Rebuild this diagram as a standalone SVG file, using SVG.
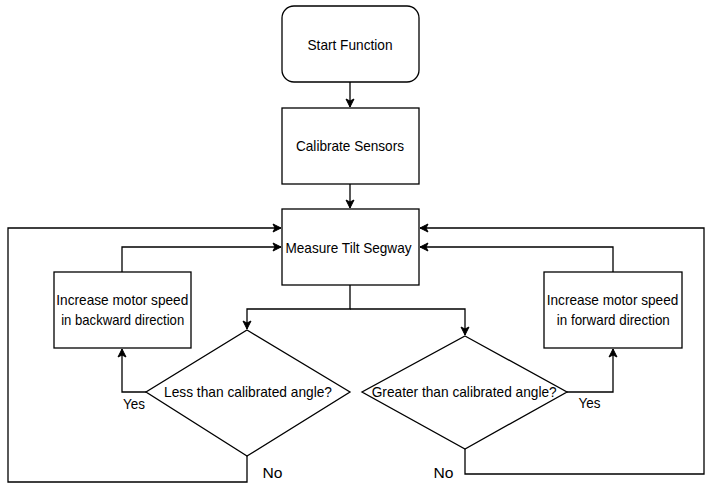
<svg xmlns="http://www.w3.org/2000/svg" width="708" height="489" viewBox="0 0 708 489">
<defs>
<marker id="arr" markerWidth="10" markerHeight="10" refX="9" refY="5" orient="auto" markerUnits="userSpaceOnUse">
<path d="M1,1 L9,5 L1,9 L3,5 Z" fill="#000" stroke="#000" stroke-width="1"/>
</marker>
<style>
.n{fill:#fff;stroke:#000;stroke-width:1.3}
.c{fill:none;stroke:#000;stroke-width:1.3}
text{font-family:"Liberation Sans",Arial,sans-serif;font-size:15px;fill:#000}
.m{text-anchor:middle}
</style>
</defs>
<rect width="708" height="489" fill="#fff"/>
<g id="connectors">
<path class="c" d="M350,82 V107" marker-end="url(#arr)"/>
<path class="c" d="M350,184 V208" marker-end="url(#arr)"/>
<path class="c" d="M350,285 V309 H247 V329" marker-end="url(#arr)"/>
<path class="c" d="M350,309 H465 V335" marker-end="url(#arr)"/>
<path class="c" d="M146,392 H122 V349" marker-end="url(#arr)"/>
<path class="c" d="M122,272 V247 H281" marker-end="url(#arr)"/>
<path class="c" d="M247,456 V482 H8 V228 H281" marker-end="url(#arr)"/>
<path class="c" d="M567,392 H613 V349" marker-end="url(#arr)"/>
<path class="c" d="M613,272 V247 H420" marker-end="url(#arr)"/>
<path class="c" d="M465,449 V474 H704 V228 H420" marker-end="url(#arr)"/>
<text x="134" y="409" class="m" textLength="22" lengthAdjust="spacingAndGlyphs">Yes</text>
<text x="272.5" y="478" class="m" textLength="20" lengthAdjust="spacingAndGlyphs">No</text>
<text x="589.5" y="408" class="m" textLength="22" lengthAdjust="spacingAndGlyphs">Yes</text>
<text x="443.5" y="478" class="m" textLength="20" lengthAdjust="spacingAndGlyphs">No</text>
</g>
<g id="start">
<rect class="n" x="282" y="6" width="137" height="76" rx="12"/>
<text x="350" y="49.5" class="m" textLength="85" lengthAdjust="spacingAndGlyphs">Start Function</text>
</g>
<g id="calibrate">
<rect class="n" x="282" y="108" width="137" height="76"/>
<text x="350" y="151" class="m" textLength="108" lengthAdjust="spacingAndGlyphs">Calibrate Sensors</text>
</g>
<g id="measure">
<rect class="n" x="282" y="209" width="137" height="76"/>
<text x="348.5" y="252.5" class="m" textLength="126" lengthAdjust="spacingAndGlyphs">Measure Tilt Segway</text>
</g>
<g id="backward">
<rect class="n" x="54" y="272" width="137" height="76"/>
<text x="122.3" y="305" class="m" textLength="132" lengthAdjust="spacingAndGlyphs">Increase motor speed</text>
<text x="122.7" y="324.5" class="m" textLength="123" lengthAdjust="spacingAndGlyphs">in backward direction</text>
</g>
<g id="forward">
<rect class="n" x="544" y="272" width="138" height="76"/>
<text x="612.5" y="305" class="m" textLength="131.5" lengthAdjust="spacingAndGlyphs">Increase motor speed</text>
<text x="613.3" y="324.5" class="m" textLength="113" lengthAdjust="spacingAndGlyphs">in forward direction</text>
</g>
<g id="less">
<path class="n" d="M247,330 L350,392 L247,456 L146,392 Z"/>
<text x="248" y="397" class="m" textLength="168" lengthAdjust="spacingAndGlyphs">Less than calibrated angle?</text>
</g>
<g id="greater">
<path class="n" d="M465,336 L567,392 L465,449 L362,392 Z"/>
<text x="464.2" y="396.5" class="m" textLength="185" lengthAdjust="spacingAndGlyphs">Greater than calibrated angle?</text>
</g>
</svg>
